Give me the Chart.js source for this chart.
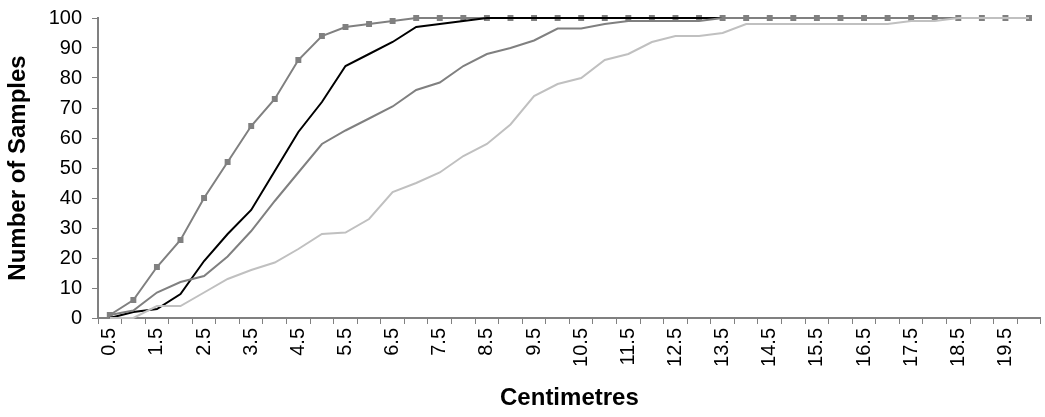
<!DOCTYPE html>
<html>
<head>
<meta charset="utf-8">
<script src="https://cdn.jsdelivr.net/npm/chart.js@4/dist/chart.umd.min.js"></script>
<style>
  body { margin: 0; background: #fff; }
</style>
</head>
<body>
<canvas id="graphic" width="1045" height="417"></canvas>
<script>
// centimetre categories 0.5 .. 20
var centimetres = ["0.5","1.0","1.5","2.0","2.5","3.0","3.5","4.0","4.5","5.0",
  "5.5","6.0","6.5","7.0","7.5","8.0","8.5","9.0","9.5","10.0",
  "10.5","11.0","11.5","12.0","12.5","13.0","13.5","14.0","14.5","15.0",
  "15.5","16.0","16.5","17.0","17.5","18.0","18.5","19.0","19.5","20.0"];

var squares = [1, 6, 17, 26, 40, 52, 64, 73, 86, 94,
  97, 98, 99, 100, 100, 100, 100, 100, 100, 100,
  100, 100, 100, 100, 100, 100, 100, 100, 100, 100,
  100, 100, 100, 100, 100, 100, 100, 100, 100, 100];

var blackLine = [0, 2, 3, 8, 19, 28, 36, 49, 62, 72,
  84, 88, 92, 97, 98, 99, 100, 100, 100, 100,
  100, 100, 100, 100, 100, 100, 100, 100, 100, 100,
  100, 100, 100, 100, 100, 100, 100, 100, 100, 100];

var midGray = [1, 2.5, 8.5, 12, 14, 20.5, 29, 39, 48.5, 58,
  62.5, 66.5, 70.5, 76, 78.5, 84, 88, 90, 92.5, 96.5,
  96.5, 98, 99, 99, 99, 99, 100, 100, 100, 100,
  100, 100, 100, 100, 100, 100, 100, 100, 100, 100];

var lightGray = [0, 0, 4, 4, 8.5, 13, 16, 18.5, 23, 28,
  28.5, 33, 42, 45, 48.5, 54, 58, 64.5, 74, 78,
  80, 86, 88, 92, 94, 94, 95, 98, 98, 98,
  98, 98, 98, 98, 99, 99, 100, 100, 100, 100];

var yTicks = [0, 10, 20, 30, 40, 50, 60, 70, 80, 90, 100];

var axisColor = "#808080";
var tickFont = { family: "'Liberation Sans', Arial, sans-serif", size: 20 };
var titleFont = { family: "'Liberation Sans', Arial, sans-serif", size: 24, weight: "bold" };

var ctx = document.getElementById("graphic").getContext("2d");
var chart = new Chart(ctx, {
  type: "line",
  data: {
    labels: centimetres,
    datasets: [
      {
        label: "light",
        data: lightGray,
        borderColor: "#c0c0c0",
        borderWidth: 2,
        pointRadius: 0,
        tension: 0,
        clip: 6,
      },
      {
        label: "mid",
        data: midGray,
        borderColor: "#808080",
        borderWidth: 2,
        pointRadius: 0,
        tension: 0,
        clip: 6,
      },
      {
        label: "black",
        data: blackLine,
        borderColor: "#000000",
        borderWidth: 2,
        pointRadius: 0,
        tension: 0,
        clip: 6,
      },
      {
        label: "squares",
        data: squares,
        borderColor: "#808080",
        backgroundColor: "#808080",
        borderWidth: 2,
        pointStyle: "rect",
        pointRadius: 4.2,
        pointBorderWidth: 0,
        tension: 0,
        clip: 6,
      },
    ],
  },
  options: {
    responsive: false,
    animation: false,
    layout: { padding: { top: 18, right: 0, left: 0, bottom: 0 } },
    plugins: {
      legend: { display: false },
      tooltip: { enabled: false },
    },
    scales: {
      x: {
        offset: true,
        afterFit: function (axis) {
          axis.height = 99;
          axis.paddingLeft = 0;
          axis.paddingRight = 0;
        },
        grid: {
          offset: true,
          drawOnChartArea: false,
          tickLength: 6,
          color: axisColor,
        },
        border: { color: axisColor, width: 2 },
        ticks: {
          autoSkip: false,
          maxRotation: 90,
          minRotation: 90,
          color: "#000",
          font: tickFont,
          padding: 4,
          callback: function (value, index) {
            return index % 2 === 0 ? centimetres[index].replace(/\.0$/, "") : "";
          },
        },
        title: {
          display: true,
          text: "Centimetres",
          color: "#000",
          font: titleFont,
          padding: { top: 0, bottom: 4 },
        },
      },
      y: {
        min: 0,
        max: 100,
        afterFit: function (axis) {
          axis.width = 98;
          axis.paddingTop = 0;
          axis.paddingBottom = 0;
        },
        afterBuildTicks: function (axis) {
          axis.ticks = yTicks.map(function (v) { return { value: v }; });
        },
        grid: {
          drawOnChartArea: false,
          tickLength: 6,
          color: axisColor,
        },
        border: { color: axisColor, width: 2 },
        ticks: {
          color: "#000",
          font: tickFont,
          padding: 10,
        },
        title: {
          display: true,
          text: "Number of Samples",
          color: "#000",
          font: titleFont,
          padding: { top: 4, bottom: 0 },
        },
      },
    },
  },
});
</script>
</body>
</html>
